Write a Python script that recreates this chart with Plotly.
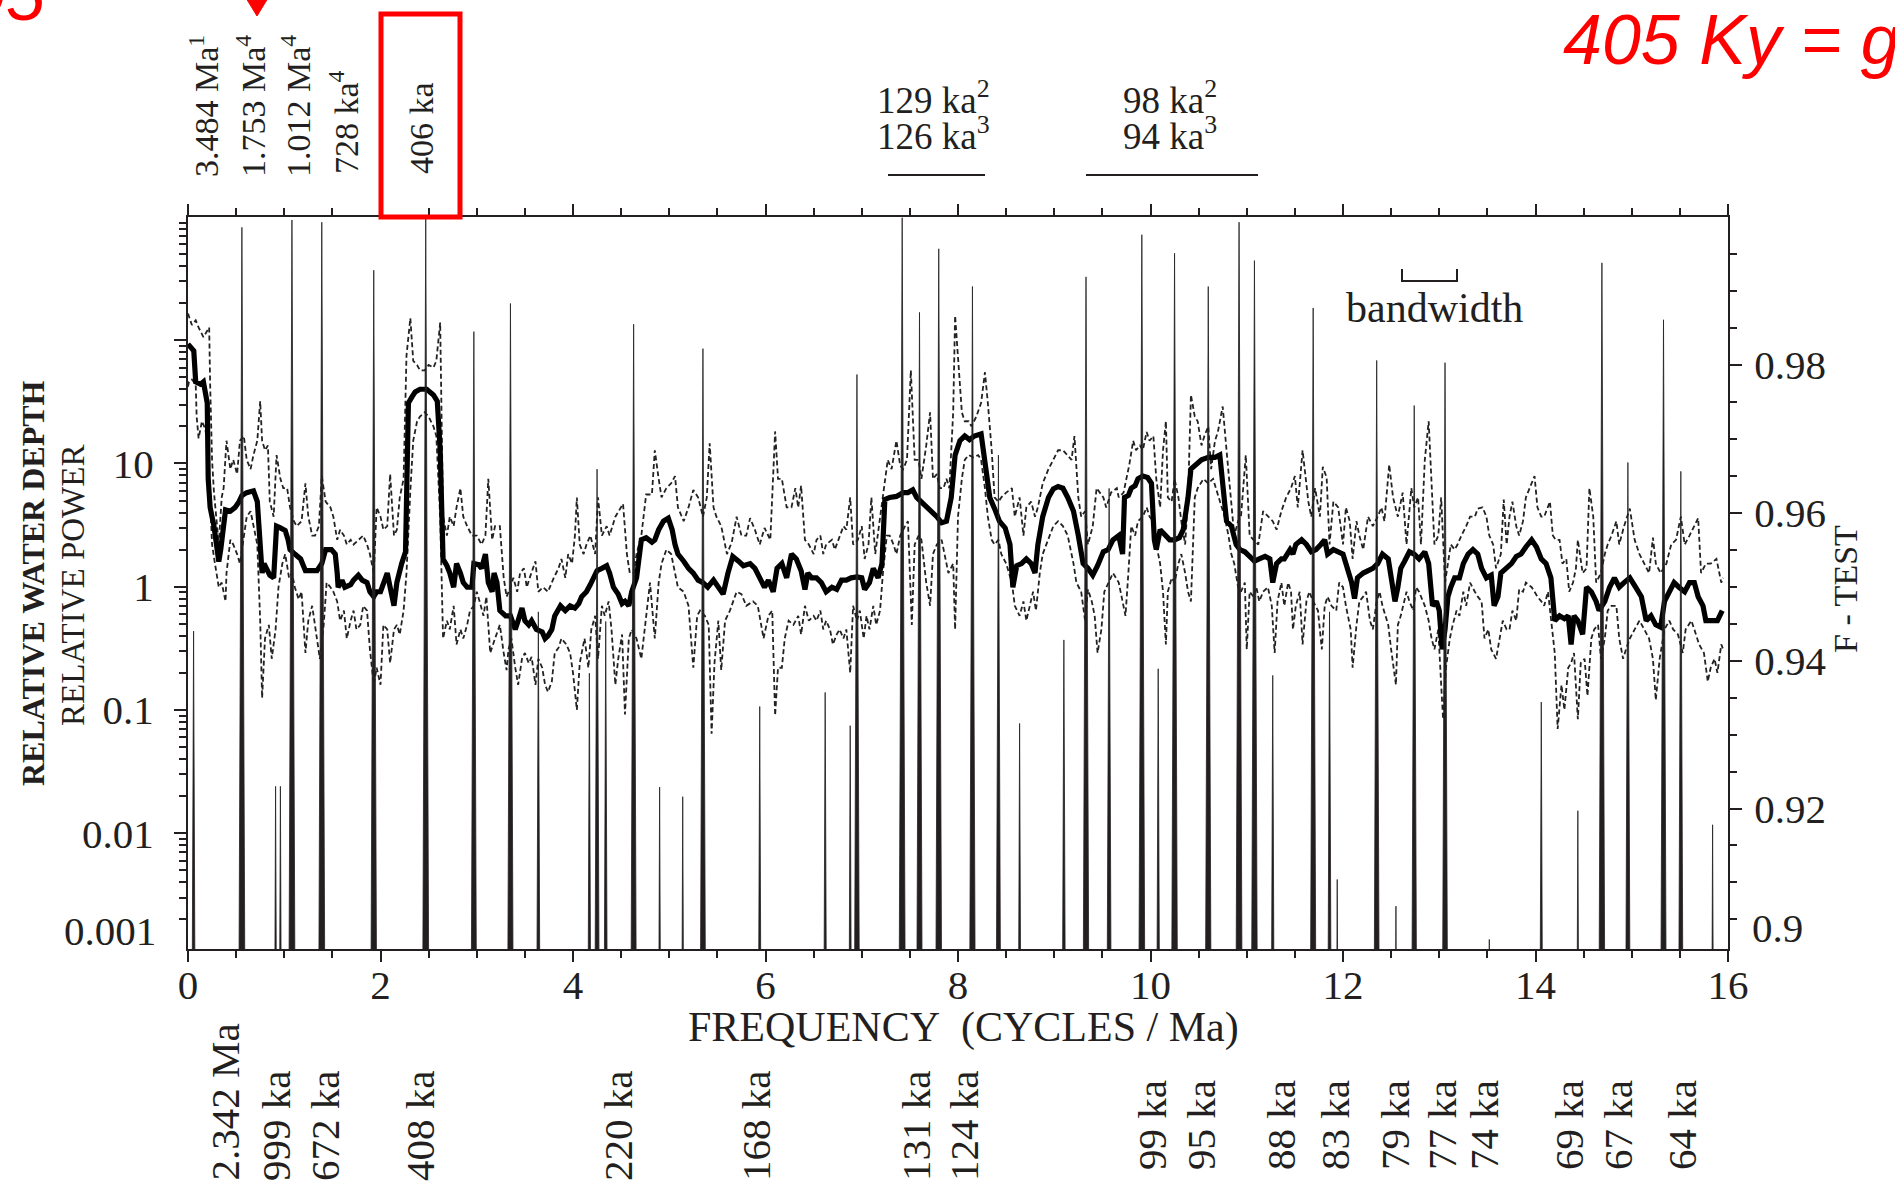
import plotly.graph_objects as go

# ---------------- data ----------------
# thick line: relative power spectrum (frequency in cycles/Ma, relative power)
power = [
    (0.00, 93), (0.06, 82), (0.08, 46), (0.13, 44), (0.16, 46), (0.20, 31), (0.21, 7.5), (0.23, 4.4),
    (0.27, 3.1), (0.30, 2.2), (0.32, 1.6), (0.34, 2.0), (0.37, 3.1), (0.39, 4.2), (0.44, 4.1), (0.49, 4.4),
    (0.53, 4.9), (0.56, 5.5), (0.61, 5.8), (0.68, 6.0), (0.72, 4.9), (0.75, 2.4), (0.77, 1.29), (0.79, 1.54),
    (0.82, 1.41), (0.85, 1.24), (0.89, 1.18), (0.92, 3.1), (0.96, 3.0), (1.01, 2.86), (1.04, 2.4), (1.06, 2.0),
    (1.11, 1.84), (1.17, 1.68), (1.22, 1.35), (1.27, 1.35), (1.34, 1.35), (1.39, 1.54), (1.43, 2.0), (1.49, 2.0),
    (1.53, 1.84), (1.55, 1.29), (1.56, 0.99), (1.60, 1.13), (1.63, 0.99), (1.69, 1.04), (1.72, 1.13), (1.77, 1.24),
    (1.81, 1.13), (1.86, 1.08), (1.89, 0.91), (1.93, 0.83), (1.96, 0.91), (2.00, 0.91), (2.03, 1.04), (2.07, 1.29),
    (2.10, 0.99), (2.14, 0.70), (2.17, 1.08), (2.19, 1.29), (2.22, 1.54), (2.26, 1.92), (2.27, 5.3), (2.29, 31),
    (2.33, 35), (2.36, 38), (2.41, 40), (2.48, 40), (2.55, 36), (2.59, 32), (2.62, 12.8), (2.65, 1.68),
    (2.69, 1.48), (2.72, 1.29), (2.76, 0.99), (2.79, 1.54), (2.83, 1.29), (2.86, 1.08), (2.90, 0.99), (2.95, 0.99),
    (2.97, 1.54), (3.02, 1.51), (3.05, 1.41), (3.09, 1.84), (3.12, 1.08), (3.16, 0.91), (3.18, 1.29), (3.21, 1.08),
    (3.24, 0.64), (3.30, 0.58), (3.35, 0.58), (3.40, 0.45), (3.43, 0.53), (3.47, 0.67), (3.50, 0.53), (3.54, 0.49),
    (3.57, 0.53), (3.62, 0.45), (3.68, 0.43), (3.71, 0.38), (3.74, 0.40), (3.78, 0.45), (3.81, 0.58), (3.87, 0.70),
    (3.92, 0.64), (3.97, 0.70), (4.02, 0.67), (4.06, 0.73), (4.09, 0.83), (4.14, 0.91), (4.18, 1.04), (4.21, 1.18),
    (4.25, 1.35), (4.30, 1.41), (4.35, 1.48), (4.38, 1.29), (4.42, 0.99), (4.47, 0.87), (4.51, 0.73), (4.54, 0.76),
    (4.58, 0.70), (4.61, 0.91), (4.66, 1.18), (4.71, 2.4), (4.76, 2.5), (4.82, 2.3), (4.85, 2.4), (4.89, 2.9),
    (4.94, 3.4), (4.99, 3.6), (5.03, 2.9), (5.06, 2.2), (5.09, 1.84), (5.15, 1.61), (5.20, 1.41), (5.25, 1.29),
    (5.30, 1.13), (5.35, 1.08), (5.40, 0.99), (5.46, 1.13), (5.51, 0.99), (5.56, 0.87), (5.61, 1.29), (5.66, 1.76),
    (5.72, 1.61), (5.77, 1.48), (5.84, 1.54), (5.89, 1.41), (5.94, 1.18), (5.99, 0.99), (6.03, 1.13), (6.08, 0.91),
    (6.12, 1.41), (6.17, 1.54), (6.22, 1.18), (6.27, 1.84), (6.32, 1.68), (6.37, 1.35), (6.41, 0.95), (6.44, 1.29),
    (6.48, 1.18), (6.53, 1.18), (6.58, 1.08), (6.63, 0.91), (6.69, 0.99), (6.74, 0.95), (6.79, 1.13), (6.84, 1.13),
    (6.89, 1.18), (6.95, 1.20), (7.00, 1.18), (7.03, 0.95), (7.08, 1.08), (7.12, 1.41), (7.17, 1.18), (7.21, 1.54),
    (7.24, 5.1), (7.29, 5.3), (7.36, 5.4), (7.43, 5.8), (7.48, 5.8), (7.53, 6.1), (7.57, 5.3), (7.62, 4.9),
    (7.67, 4.4), (7.72, 4.1), (7.78, 3.7), (7.83, 3.3), (7.88, 3.4), (7.93, 5.3), (7.97, 11.7), (8.02, 15.3),
    (8.07, 16.7), (8.12, 15.6), (8.17, 16.7), (8.24, 17.4), (8.28, 10.7), (8.33, 5.3), (8.38, 4.3), (8.43, 3.4),
    (8.49, 3.0), (8.54, 2.2), (8.57, 0.99), (8.61, 1.48), (8.66, 1.54), (8.71, 1.68), (8.76, 1.54), (8.80, 1.29),
    (8.83, 2.2), (8.88, 3.7), (8.94, 5.3), (8.99, 6.2), (9.04, 6.5), (9.09, 6.3), (9.14, 5.3), (9.20, 4.1),
    (9.25, 2.6), (9.30, 1.54), (9.35, 1.41), (9.40, 1.24), (9.45, 1.48), (9.51, 1.92), (9.56, 2.0), (9.61, 2.4),
    (9.67, 2.6), (9.71, 1.84), (9.73, 5.3), (9.77, 5.5), (9.80, 6.3), (9.84, 6.6), (9.87, 7.5), (9.92, 7.9),
    (9.97, 7.7), (10.01, 6.9), (10.04, 2.4), (10.06, 2.0), (10.10, 2.9), (10.15, 2.6), (10.20, 2.4), (10.25, 2.4),
    (10.30, 2.5), (10.34, 2.9), (10.39, 5.3), (10.42, 9.0), (10.48, 9.8), (10.53, 10.7), (10.60, 11.2), (10.67, 11.2),
    (10.72, 11.7), (10.75, 7.5), (10.79, 3.4), (10.84, 3.1), (10.89, 2.2), (10.93, 2.0), (10.98, 1.92), (11.03, 1.76),
    (11.08, 1.61), (11.13, 1.68), (11.19, 1.76), (11.24, 1.68), (11.27, 1.08), (11.31, 1.54), (11.36, 1.68), (11.39, 1.68),
    (11.45, 2.0), (11.48, 1.84), (11.51, 2.2), (11.57, 2.4), (11.62, 2.2), (11.67, 1.92), (11.72, 2.0), (11.77, 2.2),
    (11.81, 2.4), (11.84, 1.84), (11.90, 2.0), (11.95, 1.92), (12.00, 1.84), (12.03, 1.54), (12.09, 1.08), (12.12, 0.80),
    (12.15, 1.18), (12.21, 1.29), (12.26, 1.35), (12.31, 1.41), (12.36, 1.54), (12.41, 1.84), (12.47, 1.68), (12.50, 1.18),
    (12.54, 0.76), (12.57, 0.99), (12.60, 1.41), (12.64, 1.61), (12.69, 1.92), (12.74, 1.84), (12.79, 1.68), (12.85, 1.92),
    (12.89, 1.54), (12.93, 0.70), (12.97, 0.76), (13.00, 0.64), (13.03, 0.31), (13.06, 0.45), (13.09, 0.83), (13.12, 0.99),
    (13.16, 1.18), (13.21, 1.18), (13.25, 1.54), (13.30, 1.84), (13.35, 2.0), (13.40, 1.84), (13.44, 1.41), (13.49, 1.18),
    (13.54, 1.24), (13.57, 0.70), (13.61, 0.83), (13.64, 1.29), (13.70, 1.41), (13.75, 1.54), (13.80, 1.76), (13.85, 1.84),
    (13.90, 2.1), (13.96, 2.4), (14.01, 2.1), (14.06, 1.68), (14.11, 1.54), (14.16, 1.18), (14.20, 0.53), (14.25, 0.58),
    (14.30, 0.55), (14.34, 0.58), (14.37, 0.34), (14.40, 0.58), (14.44, 0.53), (14.49, 0.41), (14.53, 0.99), (14.58, 0.91),
    (14.63, 0.76), (14.66, 0.64), (14.72, 0.76), (14.77, 0.99), (14.82, 1.18), (14.87, 0.99), (14.92, 1.08), (14.98, 1.18),
    (15.04, 0.99), (15.10, 0.83), (15.15, 0.53), (15.20, 0.58), (15.25, 0.49), (15.30, 0.47), (15.34, 0.76), (15.39, 0.91),
    (15.44, 1.08), (15.49, 0.99), (15.55, 0.91), (15.60, 1.08), (15.65, 1.08), (15.69, 0.83), (15.74, 0.70), (15.77, 0.53),
    (15.84, 0.53), (15.89, 0.53), (15.94, 0.64),
]

# dashed line: upper confidence limit
upper = [
    (0.00, 165), (0.04, 133), (0.08, 145), (0.11, 127), (0.16, 106), (0.20, 121), (0.22, 127), (0.23, 44),
    (0.25, 10.7), (0.27, 5.8), (0.30, 3.1), (0.32, 2.2), (0.35, 5.3), (0.37, 6.3), (0.40, 15.3), (0.44, 9.0),
    (0.47, 10.7), (0.51, 8.2), (0.54, 15.3), (0.58, 16.7), (0.61, 10.7), (0.65, 9.0), (0.68, 11.7), (0.72, 15.3),
    (0.75, 32), (0.77, 15.3), (0.80, 12.8), (0.83, 14), (0.85, 4.9), (0.89, 3.7), (0.92, 11.7), (0.96, 7.5),
    (0.99, 6.3), (1.03, 6.3), (1.06, 4.4), (1.10, 3.4), (1.13, 3.1), (1.18, 3.4), (1.22, 6.9), (1.25, 3.7),
    (1.29, 2.6), (1.32, 2.6), (1.36, 3.1), (1.39, 7.9), (1.43, 4.9), (1.48, 4.4), (1.51, 3.7), (1.55, 2.4),
    (1.58, 2.9), (1.62, 2.6), (1.65, 2.2), (1.69, 2.4), (1.72, 2.2), (1.77, 2.4), (1.82, 2.6), (1.86, 2.2),
    (1.89, 1.84), (1.93, 1.29), (1.96, 4.4), (2.00, 3.7), (2.03, 2.9), (2.07, 3.1), (2.10, 8.2), (2.14, 2.6),
    (2.17, 2.9), (2.20, 5.3), (2.24, 7.5), (2.27, 75), (2.31, 151), (2.34, 68), (2.38, 63), (2.41, 57),
    (2.46, 57), (2.50, 63), (2.55, 60), (2.58, 68), (2.62, 139), (2.65, 3.7), (2.69, 2.6), (2.72, 3.7),
    (2.76, 3.1), (2.79, 4.4), (2.83, 6.3), (2.86, 3.7), (2.90, 3.1), (2.95, 2.6), (3.00, 2.6), (3.05, 2.2),
    (3.09, 2.6), (3.12, 7.5), (3.16, 2.4), (3.19, 3.1), (3.24, 3.1), (3.28, 1.18), (3.31, 0.83), (3.35, 0.99),
    (3.38, 1.18), (3.42, 0.91), (3.45, 1.29), (3.49, 1.41), (3.52, 0.99), (3.55, 1.18), (3.61, 1.61), (3.64, 0.91),
    (3.69, 0.99), (3.74, 0.91), (3.80, 1.18), (3.85, 1.41), (3.88, 1.68), (3.92, 1.18), (3.95, 1.84), (3.99, 1.54),
    (4.02, 2.6), (4.04, 5.3), (4.07, 2.2), (4.11, 1.84), (4.14, 2.2), (4.18, 2.6), (4.23, 1.84), (4.26, 5.3),
    (4.30, 2.6), (4.35, 3.1), (4.38, 2.6), (4.44, 3.7), (4.49, 4.3), (4.52, 4.7), (4.56, 1.84), (4.59, 1.29),
    (4.63, 1.29), (4.66, 1.84), (4.71, 2.6), (4.76, 5.6), (4.82, 5.6), (4.85, 12.8), (4.89, 7.5), (4.92, 5.3),
    (4.97, 6.3), (5.02, 6.9), (5.06, 7.9), (5.09, 4.4), (5.15, 3.4), (5.20, 4.4), (5.25, 6.1), (5.30, 5.3),
    (5.35, 3.7), (5.39, 5.3), (5.42, 14.6), (5.46, 4.4), (5.49, 3.7), (5.54, 3.1), (5.60, 1.84), (5.65, 2.3),
    (5.70, 3.7), (5.75, 2.6), (5.80, 2.6), (5.84, 3.6), (5.89, 2.9), (5.94, 2.2), (5.99, 3.0), (6.05, 2.4),
    (6.10, 18.2), (6.13, 7.5), (6.17, 7.5), (6.22, 4.4), (6.27, 4.4), (6.31, 6.3), (6.34, 4.4), (6.37, 6.6),
    (6.41, 2.4), (6.45, 2.2), (6.50, 1.84), (6.53, 2.4), (6.57, 2.6), (6.60, 1.84), (6.63, 2.2), (6.69, 2.4),
    (6.72, 2.0), (6.76, 2.4), (6.81, 3.1), (6.84, 2.9), (6.88, 5.3), (6.91, 2.2), (6.96, 2.4), (7.00, 3.1),
    (7.03, 1.68), (7.07, 2.2), (7.10, 5.3), (7.14, 1.84), (7.19, 3.7), (7.24, 7.5), (7.27, 10.7), (7.31, 9.0),
    (7.36, 15.3), (7.40, 9.6), (7.43, 9.0), (7.47, 10.7), (7.51, 57), (7.55, 10.7), (7.59, 10.7), (7.62, 7.5),
    (7.67, 14), (7.71, 26), (7.74, 7.5), (7.78, 8.2), (7.81, 6.3), (7.85, 6.3), (7.88, 7.5), (7.91, 6.3),
    (7.95, 26), (7.97, 158), (8.00, 75), (8.04, 26), (8.07, 22), (8.11, 22), (8.14, 20), (8.19, 24),
    (8.24, 31), (8.28, 55), (8.31, 31), (8.35, 12.8), (8.38, 5.3), (8.42, 4.9), (8.45, 5.3), (8.50, 5.8),
    (8.56, 6.3), (8.59, 3.7), (8.64, 5.3), (8.68, 2.6), (8.71, 4.4), (8.76, 4.9), (8.80, 3.7), (8.83, 4.4),
    (8.88, 6.9), (8.94, 9.0), (8.99, 10.7), (9.04, 12.8), (9.09, 12.8), (9.14, 11.7), (9.18, 10.7), (9.21, 16.7),
    (9.25, 5.3), (9.28, 3.7), (9.32, 4.1), (9.35, 2.2), (9.40, 3.1), (9.44, 6.3), (9.47, 5.8), (9.51, 5.3),
    (9.54, 4.4), (9.59, 5.8), (9.65, 6.3), (9.67, 5.3), (9.72, 5.8), (9.75, 7.5), (9.78, 9.8), (9.82, 15.3),
    (9.85, 12.8), (9.89, 14), (9.92, 12.8), (9.96, 18), (9.99, 15.3), (10.03, 16.7), (10.06, 7.5), (10.10, 4.4),
    (10.13, 12.8), (10.16, 22), (10.18, 5.3), (10.22, 4.9), (10.25, 7.5), (10.29, 5.3), (10.32, 3.4), (10.36, 2.2),
    (10.39, 5.3), (10.42, 36), (10.46, 24), (10.49, 22), (10.53, 14), (10.56, 16.7), (10.60, 20), (10.63, 9.0),
    (10.67, 15.3), (10.70, 18), (10.75, 29), (10.79, 12.8), (10.84, 4.9), (10.87, 2.6), (10.91, 3.4), (10.94, 3.7),
    (10.99, 11.7), (11.03, 2.6), (11.07, 2.4), (11.12, 2.2), (11.17, 4.1), (11.22, 3.7), (11.27, 3.4), (11.31, 2.9),
    (11.36, 4.1), (11.41, 5.3), (11.46, 6.3), (11.50, 7.9), (11.53, 4.4), (11.58, 12.8), (11.64, 4.9), (11.67, 3.7),
    (11.71, 6.3), (11.76, 3.7), (11.79, 9.4), (11.83, 7.7), (11.86, 2.2), (11.90, 4.9), (11.95, 4.4), (12.00, 2.2),
    (12.03, 4.4), (12.07, 3.4), (12.10, 1.68), (12.14, 3.4), (12.17, 2.6), (12.21, 2.0), (12.26, 3.7), (12.31, 3.1),
    (12.36, 3.7), (12.40, 4.4), (12.43, 3.4), (12.48, 9.8), (12.52, 5.3), (12.57, 3.7), (12.62, 5.8), (12.66, 2.2),
    (12.71, 6.3), (12.74, 4.4), (12.78, 5.3), (12.81, 2.2), (12.85, 10.7), (12.89, 22), (12.92, 7.5), (12.95, 2.2),
    (12.99, 2.6), (13.02, 5.3), (13.06, 1.08), (13.09, 1.54), (13.12, 2.2), (13.16, 2.0), (13.19, 2.2), (13.23, 2.6),
    (13.28, 3.1), (13.32, 3.7), (13.37, 3.7), (13.40, 4.3), (13.45, 4.4), (13.49, 3.7), (13.52, 2.6), (13.56, 2.2),
    (13.59, 1.41), (13.64, 1.84), (13.67, 5.1), (13.70, 2.2), (13.73, 3.7), (13.76, 4.9), (13.80, 3.1), (13.83, 2.6),
    (13.87, 3.4), (13.90, 5.3), (13.94, 6.3), (13.99, 7.9), (14.02, 4.4), (14.06, 3.7), (14.09, 3.7), (14.15, 4.9),
    (14.18, 2.6), (14.21, 2.4), (14.25, 2.4), (14.28, 1.54), (14.32, 1.68), (14.35, 0.91), (14.39, 1.08), (14.42, 1.41),
    (14.44, 2.4), (14.49, 1.29), (14.53, 1.41), (14.56, 6.3), (14.60, 3.7), (14.63, 1.08), (14.68, 1.29), (14.72, 1.84),
    (14.75, 2.2), (14.79, 2.6), (14.84, 3.4), (14.87, 2.2), (14.92, 3.1), (14.98, 4.3), (15.03, 2.4), (15.08, 1.84),
    (15.13, 1.54), (15.18, 1.29), (15.22, 2.5), (15.25, 1.54), (15.30, 1.29), (15.36, 1.54), (15.41, 2.2), (15.46, 2.4),
    (15.51, 3.7), (15.55, 2.2), (15.60, 2.6), (15.65, 3.1), (15.69, 3.6), (15.72, 1.29), (15.77, 1.54), (15.82, 1.54),
    (15.88, 1.68), (15.93, 1.08), (15.95, 1.18),
]

# dashed line: lower confidence limit
lower = [
    (0.00, 42), (0.01, 46), (0.04, 48), (0.08, 44), (0.09, 24), (0.11, 16), (0.145, 22), (0.18, 19),
    (0.21, 12.8), (0.25, 2.2), (0.28, 1.54), (0.32, 0.99), (0.35, 1.08), (0.39, 0.76), (0.40, 1.29), (0.44, 2.4),
    (0.47, 2.2), (0.51, 1.84), (0.54, 1.54), (0.58, 2.6), (0.61, 3.7), (0.65, 4.1), (0.68, 3.1), (0.72, 2.2),
    (0.75, 0.53), (0.77, 0.125), (0.80, 0.38), (0.84, 0.49), (0.87, 0.26), (0.91, 0.45), (0.94, 0.99), (0.98, 1.54),
    (1.01, 1.84), (1.05, 1.18), (1.08, 1.29), (1.11, 0.99), (1.15, 0.79), (1.18, 0.91), (1.22, 0.29), (1.25, 0.53),
    (1.29, 0.70), (1.32, 0.49), (1.37, 0.26), (1.41, 0.49), (1.44, 1.08), (1.48, 0.99), (1.51, 0.91), (1.55, 0.76),
    (1.58, 0.53), (1.62, 0.64), (1.65, 0.38), (1.69, 0.53), (1.72, 0.64), (1.75, 0.45), (1.79, 0.49), (1.82, 0.70),
    (1.86, 0.64), (1.89, 0.31), (1.93, 0.16), (1.96, 0.22), (2.00, 0.16), (2.03, 0.49), (2.07, 0.45), (2.10, 0.24),
    (2.14, 0.45), (2.17, 0.49), (2.20, 0.41), (2.24, 0.64), (2.27, 1.29), (2.31, 6.0), (2.34, 15.3), (2.38, 22),
    (2.41, 24), (2.46, 26), (2.50, 24), (2.55, 20), (2.58, 16.7), (2.62, 3.7), (2.65, 0.38), (2.69, 0.53),
    (2.72, 0.45), (2.76, 0.70), (2.79, 0.34), (2.83, 0.45), (2.86, 0.38), (2.90, 0.49), (2.93, 0.64), (2.97, 0.70),
    (3.00, 0.91), (3.03, 0.76), (3.07, 0.58), (3.10, 0.83), (3.14, 0.29), (3.19, 0.38), (3.24, 0.49), (3.28, 0.29),
    (3.31, 0.21), (3.33, 0.31), (3.36, 0.38), (3.40, 0.22), (3.43, 0.16), (3.47, 0.26), (3.50, 0.29), (3.54, 0.24),
    (3.57, 0.27), (3.61, 0.16), (3.64, 0.26), (3.68, 0.22), (3.71, 0.16), (3.74, 0.14), (3.78, 0.17), (3.81, 0.29),
    (3.85, 0.32), (3.88, 0.38), (3.93, 0.34), (3.97, 0.29), (4.00, 0.20), (4.04, 0.10), (4.07, 0.24), (4.12, 0.38),
    (4.16, 0.22), (4.19, 0.45), (4.23, 0.58), (4.26, 0.26), (4.30, 0.70), (4.33, 0.58), (4.37, 0.76), (4.40, 0.45),
    (4.44, 0.16), (4.47, 0.26), (4.51, 0.41), (4.54, 0.092), (4.58, 0.38), (4.61, 0.45), (4.66, 0.38), (4.71, 0.26),
    (4.75, 0.49), (4.80, 1.08), (4.85, 0.38), (4.89, 1.08), (4.92, 1.54), (4.97, 2.0), (5.02, 1.84), (5.06, 1.29),
    (5.09, 0.99), (5.15, 0.91), (5.20, 0.70), (5.25, 0.22), (5.29, 0.58), (5.32, 0.64), (5.37, 0.58), (5.41, 0.49),
    (5.44, 0.064), (5.47, 0.24), (5.51, 0.53), (5.54, 0.21), (5.58, 0.53), (5.63, 0.64), (5.70, 0.91), (5.75, 0.87),
    (5.80, 0.70), (5.87, 0.76), (5.92, 0.70), (5.98, 0.38), (6.03, 0.58), (6.07, 0.64), (6.10, 0.09), (6.13, 0.22),
    (6.17, 0.22), (6.20, 0.38), (6.24, 0.53), (6.29, 0.49), (6.34, 0.58), (6.37, 0.41), (6.41, 0.70), (6.45, 0.53),
    (6.50, 0.58), (6.53, 0.53), (6.57, 0.64), (6.60, 0.45), (6.63, 0.53), (6.67, 0.45), (6.70, 0.34), (6.74, 0.41),
    (6.77, 0.45), (6.81, 0.38), (6.84, 0.45), (6.88, 0.20), (6.91, 0.70), (6.95, 0.53), (6.98, 0.64), (7.02, 0.38),
    (7.05, 0.58), (7.08, 0.45), (7.12, 0.70), (7.15, 0.49), (7.19, 0.64), (7.22, 1.29), (7.26, 2.6), (7.29, 2.6),
    (7.33, 2.2), (7.36, 1.84), (7.40, 2.6), (7.45, 3.1), (7.48, 3.4), (7.52, 0.49), (7.55, 2.2), (7.59, 2.6),
    (7.62, 2.4), (7.67, 1.08), (7.71, 0.70), (7.74, 1.84), (7.78, 2.2), (7.83, 2.4), (7.86, 1.84), (7.90, 1.29),
    (7.95, 1.54), (7.97, 0.45), (8.00, 3.7), (8.04, 7.5), (8.07, 10.7), (8.11, 11.7), (8.16, 11.2), (8.21, 11.7),
    (8.24, 10.7), (8.28, 6.3), (8.31, 3.7), (8.35, 2.4), (8.38, 2.2), (8.42, 2.4), (8.45, 1.84), (8.50, 1.54),
    (8.56, 1.08), (8.59, 0.70), (8.64, 0.58), (8.68, 0.76), (8.71, 0.53), (8.75, 0.70), (8.78, 0.91), (8.81, 0.64),
    (8.85, 1.29), (8.88, 1.84), (8.94, 2.4), (8.99, 3.1), (9.04, 3.4), (9.09, 3.1), (9.14, 2.6), (9.20, 1.54),
    (9.23, 1.08), (9.28, 0.91), (9.32, 0.53), (9.35, 0.95), (9.39, 0.76), (9.42, 0.58), (9.45, 0.29), (9.49, 0.45),
    (9.52, 0.91), (9.56, 1.08), (9.61, 1.29), (9.67, 1.08), (9.72, 0.70), (9.74, 0.58), (9.77, 1.29), (9.80, 3.1),
    (9.84, 2.6), (9.87, 3.4), (9.92, 3.7), (9.96, 4.4), (9.99, 3.7), (10.03, 3.4), (10.06, 2.2), (10.10, 1.54),
    (10.13, 0.91), (10.16, 0.34), (10.18, 0.91), (10.22, 1.18), (10.25, 1.08), (10.29, 1.54), (10.32, 1.84), (10.36, 1.29),
    (10.39, 0.91), (10.42, 0.76), (10.46, 5.3), (10.49, 6.3), (10.55, 7.5), (10.60, 6.9), (10.65, 7.5), (10.68, 6.3),
    (10.74, 4.4), (10.77, 3.7), (10.81, 2.6), (10.84, 1.84), (10.87, 1.54), (10.91, 0.99), (10.94, 0.91), (10.98, 1.08),
    (11.00, 0.31), (11.03, 0.91), (11.07, 0.83), (11.10, 0.99), (11.13, 0.76), (11.17, 0.91), (11.22, 0.99), (11.26, 0.70),
    (11.29, 0.29), (11.32, 0.76), (11.36, 1.08), (11.39, 0.70), (11.43, 1.08), (11.46, 0.91), (11.48, 0.45), (11.51, 0.70),
    (11.55, 0.91), (11.58, 0.34), (11.62, 0.76), (11.65, 0.91), (11.69, 0.76), (11.74, 0.64), (11.78, 0.31), (11.81, 0.70),
    (11.84, 0.83), (11.88, 0.70), (11.93, 0.64), (11.96, 1.08), (12.00, 0.99), (12.03, 0.70), (12.08, 0.45), (12.10, 0.22),
    (12.14, 0.49), (12.17, 0.76), (12.21, 0.83), (12.24, 0.91), (12.28, 0.53), (12.31, 0.45), (12.35, 0.76), (12.38, 0.91),
    (12.41, 0.70), (12.47, 0.49), (12.50, 0.31), (12.55, 0.16), (12.57, 0.49), (12.60, 0.58), (12.66, 0.91), (12.69, 0.76),
    (12.73, 0.64), (12.76, 0.99), (12.79, 0.91), (12.85, 0.70), (12.89, 0.53), (12.92, 0.38), (12.95, 0.31), (12.99, 0.45),
    (13.02, 0.16), (13.04, 0.084), (13.07, 0.22), (13.11, 0.38), (13.14, 0.49), (13.18, 0.64), (13.21, 0.58), (13.25, 0.91),
    (13.28, 0.70), (13.32, 1.08), (13.37, 0.91), (13.40, 0.83), (13.44, 0.76), (13.47, 0.38), (13.51, 0.45), (13.54, 0.31),
    (13.59, 0.26), (13.63, 0.41), (13.66, 0.53), (13.70, 0.45), (13.73, 0.45), (13.76, 0.64), (13.80, 0.53), (13.83, 0.95),
    (13.87, 0.91), (13.90, 1.08), (13.96, 0.99), (13.99, 0.91), (14.02, 0.83), (14.06, 0.76), (14.09, 0.70), (14.13, 0.91),
    (14.16, 0.53), (14.20, 0.29), (14.23, 0.070), (14.27, 0.16), (14.30, 0.10), (14.34, 0.22), (14.37, 0.24), (14.40, 0.29),
    (14.44, 0.084), (14.47, 0.24), (14.51, 0.26), (14.54, 0.13), (14.58, 0.38), (14.61, 0.45), (14.65, 0.49), (14.68, 0.26),
    (14.72, 0.38), (14.75, 0.64), (14.79, 0.70), (14.84, 0.70), (14.87, 0.38), (14.91, 0.26), (14.94, 0.31), (14.98, 0.38),
    (15.03, 0.45), (15.08, 0.53), (15.13, 0.45), (15.18, 0.38), (15.22, 0.26), (15.25, 0.12), (15.29, 0.26), (15.34, 0.45),
    (15.39, 0.53), (15.43, 0.45), (15.48, 0.41), (15.53, 0.29), (15.56, 0.45), (15.62, 0.53), (15.65, 0.45), (15.70, 0.34),
    (15.75, 0.29), (15.79, 0.17), (15.82, 0.22), (15.86, 0.26), (15.89, 0.20), (15.93, 0.34), (15.95, 0.31),
]

# F-test spikes (frequency, F value)
ftest = [
    (0.058, 0.944), (0.56, 0.9986), (0.91, 0.923), (0.96, 0.923), (1.08, 0.9996), (1.39, 0.9993),
    (1.93, 0.9928), (2.47, 0.9999), (2.97, 0.9845), (3.35, 0.9883), (3.64, 0.9466), (4.17, 0.9383),
    (4.25, 0.9659), (4.34, 0.9453), (4.63, 0.9855), (4.90, 0.9229), (5.14, 0.9216), (5.35, 0.9822),
    (5.94, 0.9338), (6.62, 0.9357), (6.88, 0.9312), (6.95, 0.9787), (7.42, 0.9999), (7.60, 0.9871),
    (7.80, 0.9957), (8.15, 0.9906), (8.42, 0.9678), (8.64, 0.9315), (9.10, 0.9428), (9.33, 0.9919),
    (9.57, 0.9633), (9.91, 0.9976), (10.08, 0.9389), (10.25, 0.9951), (10.60, 0.9906), (10.92, 0.9993),
    (11.08, 0.9941), (11.27, 0.9380), (11.69, 0.9877), (11.86, 0.9466), (11.94, 0.9104), (12.35, 0.9806),
    (12.55, 0.9068), (12.74, 0.9745), (13.06, 0.9803), (13.52, 0.9023), (14.06, 0.9344), (14.44, 0.9197),
    (14.69, 0.9938), (14.96, 0.9668), (15.33, 0.9861), (15.51, 0.9656), (15.84, 0.9178),
]

x_ticks = [0, 2, 4, 6, 8, 10, 12, 14, 16]
y_ticks = [0.01, 0.1, 1, 10, 100]
y_ticktext = ["0.01", "0.1", "1", "10", ""]
f_ticks = [0.92, 0.94, 0.96, 0.98]

top_labels = ["3.484 Ma<sup>1</sup>", "1.753 Ma<sup>4</sup>", "1.012 Ma<sup>4</sup>", "728 ka<sup>4</sup>", "406 ka"]
bottom_labels = ["2.342 Ma", "999 ka", "672 ka", "408 ka", "220 ka", "168 ka", "131 ka", "124 ka",
                 "99 ka", "95 ka", "88 ka", "83 ka", "79 ka", "77 ka", "74 ka", "69 ka", "67 ka", "64 ka"]

# ---------------- layout helpers ----------------
W, H = 1895, 1189
PL, PR, PT, PB = 188, 1728, 217, 949     # plot area in page pixels
FT_MIN, FT_MAX = 0.901, 1.0
LOG_RANGE = [-2.94, 3.0]
INK = "#231f20"
SERIF = "Liberation Serif, 'Times New Roman', serif"
SANS = "Liberation Sans, Arial, sans-serif"


def px(x):
    return (x - PL) / (PR - PL)


def py(y):
    return (PB - y) / (PB - PT)


fig = go.Figure()

# F-test spikes: thin tapered triangles rising from the bottom of the F axis
sx, sy = [], []
for f, v in ftest:
    w = 0.30 * (v - FT_MIN)
    sx += [f - w, f, f + w, None]
    sy += [FT_MIN, v, FT_MIN, None]
fig.add_trace(go.Scatter(x=sx, y=sy, yaxis="y2", mode="lines", fill="toself",
                         fillcolor=INK, line=dict(color=INK, width=0.8),
                         hoverinfo="skip", showlegend=False))

for series in (lower, upper):
    fig.add_trace(go.Scatter(x=[p[0] for p in series], y=[p[1] for p in series], mode="lines",
                             line=dict(color="#222222", width=1.8, dash="5px,3px"),
                             hoverinfo="skip", showlegend=False))

fig.add_trace(go.Scatter(x=[p[0] for p in power], y=[p[1] for p in power], mode="lines",
                         line=dict(color="#000000", width=5.2), hoverinfo="skip", showlegend=False))

minor_log = [m * 10 ** k for k in range(-3, 3) for m in range(2, 10)]
minor_f = [round(0.905 + 0.005 * i, 3) for i in range(19)]
minor_f = [v for v in minor_f if v not in f_ticks]

tickfont = dict(family=SERIF, size=41, color=INK)

fig.update_layout(
    width=W, height=H, autosize=False,
    margin=dict(l=PL, r=W - PR, t=PT, b=H - PB, pad=0),
    paper_bgcolor="white", plot_bgcolor="white",
    showlegend=False, hovermode=False,
    xaxis=dict(range=[0, 16], tickmode="array", tickvals=x_ticks, ticks="outside", ticklen=11,
               tickwidth=2, tickcolor=INK, showline=True, linewidth=2, linecolor=INK,
               mirror="ticks", showgrid=False, zeroline=False, tickfont=tickfont,
               ticklabelstandoff=-12,
               minor=dict(dtick=0.5, tick0=0, ticks="outside", ticklen=7, tickwidth=1.5,
                          tickcolor=INK, showgrid=False)),
    yaxis=dict(type="log", range=LOG_RANGE, tickmode="array", tickvals=y_ticks, ticktext=y_ticktext,
               ticks="outside", ticklen=12, tickwidth=2, tickcolor=INK, showline=True, linewidth=2,
               linecolor=INK, showgrid=False, zeroline=False, tickfont=tickfont,
               ticklabelstandoff=12,
               minor=dict(tickmode="array", tickvals=minor_log, ticks="outside", ticklen=7,
                          tickwidth=1.5, tickcolor=INK, showgrid=False)),
    yaxis2=dict(overlaying="y", side="right", anchor="x", range=[FT_MIN, FT_MAX], tickmode="array",
                tickvals=f_ticks, ticktext=[f"{v:.2f}" for v in f_ticks], ticks="outside", ticklen=12,
                tickwidth=2, tickcolor=INK, showline=True, linewidth=2, linecolor=INK,
                showgrid=False, zeroline=False, tickfont=tickfont, ticklabelstandoff=4,
                minor=dict(tickmode="array", tickvals=minor_f, ticks="outside", ticklen=7,
                           tickwidth=1.5, tickcolor=INK, showgrid=False)),
)

ann = []


def add_text(text, x, y, size, xanchor="center", yanchor="middle", angle=0, family=SERIF, color=INK):
    ann.append(dict(text=text, x=px(x), y=py(y), xref="paper", yref="paper", showarrow=False,
                    xanchor=xanchor, yanchor=yanchor, textangle=angle,
                    font=dict(family=family, size=size, color=color)))


# compressed bottom labels of both vertical axes
add_text("0.001", 158, 931, 41, xanchor="right")
add_text("0.9", 1750, 928, 41, xanchor="left")

# axis titles
add_text("FREQUENCY\u00a0\u00a0(CYCLES / Ma)", 963, 1027, 42)
add_text("<b>RELATIVE WATER DEPTH</b>", 33, 583, 32, angle=-90)
add_text("RELATIVE POWER", 73, 586, 33, angle=-90)
add_text("F - TEST", 1845, 589, 34, angle=-90)

# top period labels (rotated)
top_x = [204, 251, 296, 344, 421]
top_bottom = [179, 179, 179, 176, 176]
for t, x, yb in zip(top_labels, top_x, top_bottom):
    add_text(t, x, yb, 34, yanchor="bottom", angle=-90)

# bottom period labels (rotated)
bot_x = [224, 276, 325, 420, 618, 756, 916, 964, 1152, 1201, 1281, 1335, 1395, 1442, 1484, 1569, 1618, 1682]
for t, x in zip(bottom_labels, bot_x):
    yb = 1183 if len(t.split()[0]) > 2 else 1172
    add_text(t, x, yb, 41, yanchor="bottom", angle=-90)

# horizontal period labels
add_text("129 ka<sup>2</sup>", 933, 97, 37)
add_text("126 ka<sup>3</sup>", 933, 133, 37)
add_text("98 ka<sup>2</sup>", 1170, 97, 37)
add_text("94 ka<sup>3</sup>", 1170, 133, 37)
add_text("bandwidth", 1434, 308, 42)

# red overlay texts
add_text("<i>405 Ky = g2-g5</i>", 1561, 40, 70, xanchor="left", family=SANS, color="#ff0000")
add_text("<i>95</i>", 48, -4, 70, xanchor="right", family=SANS, color="#ff0000")

fig.update_layout(annotations=ann)

shapes = []
# lines under the 129/126 and 98/94 labels
for x0, x1 in ((888, 985), (1086, 1258)):
    shapes.append(dict(type="line", xref="paper", yref="paper", x0=px(x0), x1=px(x1),
                       y0=py(175), y1=py(175), line=dict(color=INK, width=2)))
# bandwidth bracket
shapes.append(dict(type="path", xref="paper", yref="paper",
                   path=f"M {px(1402)},{py(269)} L {px(1402)},{py(281)} L {px(1457)},{py(281)} L {px(1457)},{py(269)}",
                   line=dict(color=INK, width=2)))
# red highlight box around 406 ka
shapes.append(dict(type="rect", xref="paper", yref="paper", x0=px(381), x1=px(460), y0=py(217), y1=py(14),
                   line=dict(color="#ff0000", width=5), fillcolor="rgba(0,0,0,0)"))
# red arrow tip
shapes.append(dict(type="path", xref="paper", yref="paper",
                   path=f"M {px(246)},{py(-2)} L {px(268)},{py(-2)} L {px(257)},{py(16)} Z",
                   fillcolor="#ff0000", line=dict(color="#ff0000", width=1)))
fig.update_layout(shapes=shapes)

fig.write_html("out.html")
